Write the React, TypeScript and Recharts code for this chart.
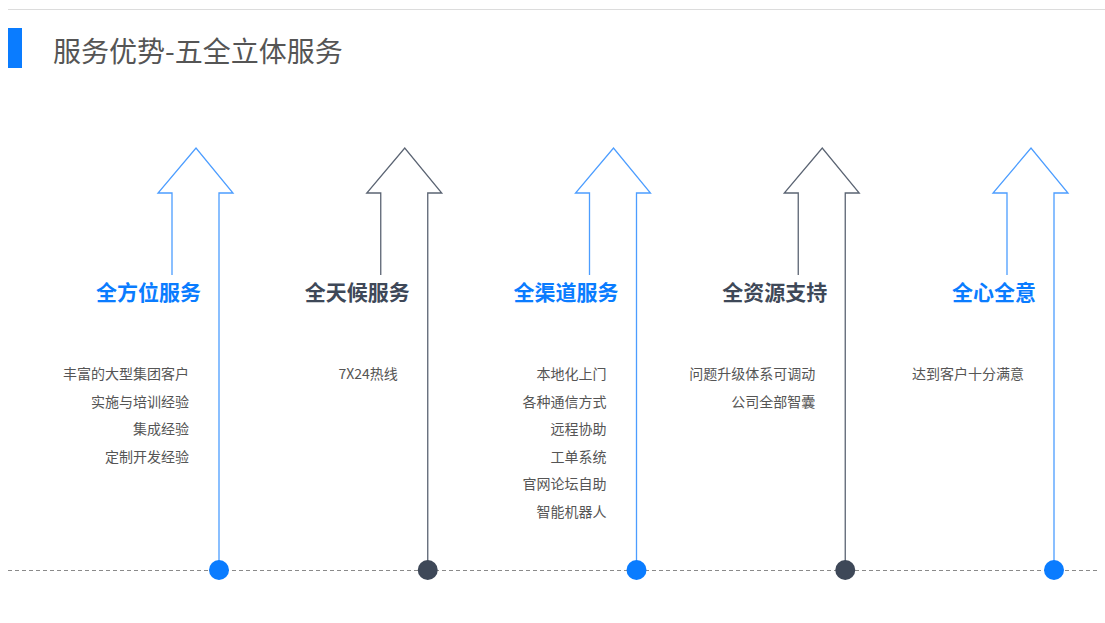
import React from 'react';
import { ScatterChart, Scatter, XAxis, YAxis } from 'recharts';

const services = ['全方位服务', '全天候服务', '全渠道服务', '全资源支持', '全心全意'];
const details = [
  ['丰富的大型集团客户', '实施与培训经验', '集成经验', '定制开发经验'],
  ['7X24热线'],
  ['本地化上门', '各种通信方式', '远程协助', '工单系统', '官网论坛自助', '智能机器人'],
  ['问题升级体系可调动', '公司全部智囊'],
  ['达到客户十分满意'],
];

const BLUE = '#0a7cff';
const BLUE_LINE = '#4c9dff';
const DARK = '#3e4858';
const DARK_LINE = '#5b6473';
const FONT = '"Noto Sans CJK SC", "Noto Sans", sans-serif';

const data = services.map((name, i) => ({ idx: i, base: 0, name, lines: details[i] }));

const ArrowShape = (props: any) => {
  const { cx, cy, payload } = props;
  const blue = payload.idx % 2 === 0;
  const line = blue ? BLUE_LINE : DARK_LINE;
  const fill = blue ? BLUE : DARK;
  const headY = cy - 377;
  const path = [
    `M${cx - 47},${cy - 295}`,
    `L${cx - 47},${headY}`,
    `L${cx - 61},${headY}`,
    `L${cx - 23},${cy - 422}`,
    `L${cx + 14},${headY}`,
    `L${cx},${headY}`,
    `L${cx},${cy}`,
  ].join(' ');
  return (
    <g>
      <path d={path} fill="none" stroke={line} strokeWidth={1.3} />
      <text
        x={cx - 18}
        y={cy - 279}
        textAnchor="end"
        dominantBaseline="central"
        fontFamily={FONT}
        fontSize={21}
        fontWeight={700}
        fill={fill}
      >
        {payload.name}
      </text>
      {payload.lines.map((t: string, k: number) => (
        <text
          key={t}
          x={cx - 30}
          y={cy - 197 + k * 27.6}
          textAnchor="end"
          dominantBaseline="central"
          fontFamily={FONT}
          fontSize={14}
          fill="#555"
        >
          {t}
        </text>
      ))}
      <circle cx={cx} cy={cy} r={10} fill={fill} />
    </g>
  );
};

export default function App() {
  return (
    <div style={{ position: 'relative', width: 1105, height: 623, background: '#fff', fontFamily: FONT }}>
      <style>{'body{margin:0}'}</style>
      <div style={{ position: 'absolute', left: 8, right: 0, top: 9, borderTop: '1px solid #dcdcdc' }} />
      <div style={{ position: 'absolute', left: 8, top: 28, width: 14, height: 40, background: '#0a7cff' }} />
      <div
        style={{
          position: 'absolute',
          left: 53,
          top: 30,
          fontSize: 28,
          lineHeight: '40px',
          color: '#555',
        }}
      >
        服务优势-五全立体服务
      </div>
      <svg style={{ position: 'absolute', left: 0, top: 0 }} width={1105} height={623}>
        <line x1={8} x2={1100} y1={570.5} y2={570.5} stroke="#8a8a8a" strokeDasharray="4 3" />
      </svg>
      <div style={{ position: 'absolute', left: 0, top: 0 }}>
        <ScatterChart width={1105} height={623} margin={{ top: 0, right: 51, bottom: 53, left: 219 }}>
          <XAxis type="number" dataKey="idx" domain={[0, 4]} hide />
          <YAxis type="number" dataKey="base" domain={[0, 1]} hide />
          <Scatter data={data} shape={ArrowShape} isAnimationActive={false} />
        </ScatterChart>
      </div>
    </div>
  );
}
